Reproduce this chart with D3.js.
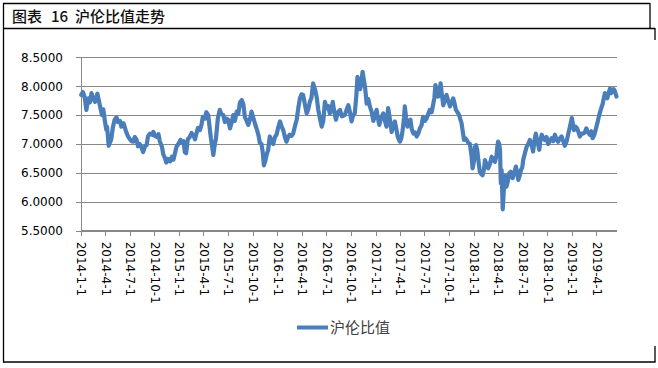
<!DOCTYPE html>
<html><head><meta charset="utf-8">
<script src="https://cdn.jsdelivr.net/npm/d3@7"></script>
<style>
html,body{margin:0;padding:0;background:#fff;}
svg{display:block;}
</style></head>
<body>
<script>
const titleParts = ["图表", "16", "沪伦比值走势"];
const seriesName = "沪伦比值";
const yTicks = [5.5, 6.0, 6.5, 7.0, 7.5, 8.0, 8.5];
const xTickLabels = ["2014-1-1","2014-4-1","2014-7-1","2014-10-1","2015-1-1","2015-4-1","2015-7-1","2015-10-1","2016-1-1","2016-4-1","2016-7-1","2016-10-1","2017-1-1","2017-4-1","2017-7-1","2017-10-1","2018-1-1","2018-4-1","2018-7-1","2018-10-1","2019-1-1","2019-4-1"];
const dateRange = ["2014-01-01","2019-06-17"];
const dates = [
"2014-01-02","2014-01-08","2014-01-15","2014-01-21","2014-01-28","2014-02-03","2014-02-09","2014-02-14","2014-02-22","2014-03-03","2014-03-12","2014-03-20","2014-03-25","2014-03-31","2014-04-05","2014-04-08","2014-04-14","2014-04-18","2014-04-23","2014-04-30","2014-05-06","2014-05-13","2014-05-18","2014-05-26","2014-05-31","2014-06-08","2014-06-18","2014-06-25","2014-07-07","2014-07-14","2014-07-20","2014-07-26","2014-08-01","2014-08-07","2014-08-14","2014-08-20","2014-08-27","2014-09-02","2014-09-07","2014-09-14","2014-09-22","2014-09-27","2014-10-03","2014-10-10","2014-10-16","2014-10-21","2014-10-29","2014-11-03","2014-11-09","2014-11-14","2014-11-20","2014-11-28","2014-12-05","2014-12-11","2014-12-16","2014-12-22","2014-12-29",
"2015-01-06","2015-01-11","2015-01-17","2015-01-22","2015-01-27","2015-02-02","2015-02-09","2015-02-16","2015-02-23","2015-03-01","2015-03-06","2015-03-12","2015-03-19","2015-03-25","2015-03-30","2015-04-07","2015-04-12","2015-04-19","2015-04-24","2015-04-29","2015-05-04","2015-05-08","2015-05-12","2015-05-18","2015-05-25","2015-06-01","2015-06-07","2015-06-14","2015-06-20","2015-06-26","2015-07-02","2015-07-09","2015-07-14","2015-07-21","2015-07-27","2015-08-03","2015-08-09","2015-08-15","2015-08-22","2015-08-28","2015-09-02","2015-09-09","2015-09-15","2015-09-21","2015-09-27","2015-10-04","2015-10-10","2015-10-17","2015-10-23","2015-10-28","2015-11-03","2015-11-08","2015-11-12","2015-11-17","2015-11-22","2015-11-28","2015-12-04","2015-12-10","2015-12-17","2015-12-23","2015-12-29",
"2016-01-04","2016-01-11","2016-01-17","2016-01-23","2016-01-29","2016-02-04","2016-02-10","2016-02-16","2016-02-23","2016-02-29","2016-03-06","2016-03-13","2016-03-19","2016-03-25","2016-03-31","2016-04-06","2016-04-12","2016-04-19","2016-04-25","2016-05-01","2016-05-07","2016-05-13","2016-05-20","2016-05-26","2016-06-01","2016-06-07","2016-06-14","2016-06-20","2016-06-26","2016-07-02","2016-07-08","2016-07-14","2016-07-20","2016-07-25","2016-07-31","2016-08-06","2016-08-13","2016-08-21","2016-08-28","2016-09-08","2016-09-15","2016-09-21","2016-09-27","2016-10-03","2016-10-09","2016-10-15","2016-10-21","2016-10-25","2016-10-31","2016-11-04","2016-11-09","2016-11-13","2016-11-18","2016-11-23","2016-11-28","2016-12-04","2016-12-10","2016-12-17","2016-12-23","2016-12-29",
"2017-01-04","2017-01-09","2017-01-14","2017-01-21","2017-01-29","2017-02-04","2017-02-10","2017-02-16","2017-02-22","2017-03-01","2017-03-07","2017-03-13","2017-03-19","2017-03-24","2017-04-01","2017-04-06","2017-04-11","2017-04-16","2017-04-19","2017-04-24","2017-04-29","2017-05-04","2017-05-10","2017-05-15","2017-05-21","2017-05-27","2017-06-02","2017-06-08","2017-06-14","2017-06-20","2017-06-26","2017-07-03","2017-07-09","2017-07-15","2017-07-21","2017-07-28","2017-08-03","2017-08-07","2017-08-11","2017-08-16","2017-08-21","2017-08-26","2017-08-30","2017-09-04","2017-09-09","2017-09-15","2017-09-21","2017-09-27","2017-10-04","2017-10-10","2017-10-16","2017-10-21","2017-10-26","2017-11-01","2017-11-07","2017-11-12","2017-11-16","2017-11-21","2017-11-25","2017-11-30","2017-12-05","2017-12-11","2017-12-17","2017-12-23","2017-12-27",
"2018-01-01","2018-01-05","2018-01-09","2018-01-13","2018-01-18","2018-01-23","2018-01-28","2018-02-02","2018-02-07","2018-02-11","2018-02-17","2018-02-23","2018-03-01","2018-03-08","2018-03-14","2018-03-20","2018-03-26","2018-03-29","2018-04-01","2018-04-05","2018-04-08","2018-04-11","2018-04-14","2018-04-18","2018-04-21","2018-04-24","2018-04-28","2018-05-02","2018-05-07","2018-05-12","2018-05-18","2018-05-25","2018-05-31","2018-06-06","2018-06-11","2018-06-15","2018-06-20","2018-06-25","2018-06-30","2018-07-03","2018-07-10","2018-07-16","2018-07-22","2018-07-28","2018-08-03","2018-08-09","2018-08-14","2018-08-19","2018-08-25","2018-09-01","2018-09-05","2018-09-10","2018-09-16","2018-09-22","2018-09-28","2018-10-04","2018-10-10","2018-10-17","2018-10-23","2018-10-29","2018-11-04","2018-11-10","2018-11-17","2018-11-23","2018-11-29","2018-12-05","2018-12-12","2018-12-18","2018-12-24","2018-12-31",
"2019-01-04","2019-01-08","2019-01-14","2019-01-20","2019-01-25","2019-01-30","2019-02-05","2019-02-11","2019-02-17","2019-02-23","2019-03-02","2019-03-08","2019-03-14","2019-03-18","2019-03-24","2019-03-31","2019-04-06","2019-04-12","2019-04-18","2019-04-25","2019-04-29","2019-05-03","2019-05-08","2019-05-12","2019-05-18","2019-05-22","2019-05-26","2019-06-01","2019-06-05","2019-06-10","2019-06-15"
];
const values = [
7.85,7.90,7.80,7.59,7.79,7.72,7.88,7.80,7.73,7.87,7.67,7.50,7.60,7.39,7.25,7.30,6.97,7.02,7.07,7.30,7.42,7.46,7.38,7.40,7.30,7.36,7.21,7.13,7.05,7.04,7.12,7.08,6.96,7.00,6.94,6.86,6.96,6.98,7.13,7.18,7.16,7.21,7.14,7.12,7.17,7.05,6.95,6.82,6.76,6.68,6.74,6.70,6.78,6.73,6.83,6.95,7.00,
7.07,7.02,7.05,6.86,6.84,7.08,7.12,7.19,7.15,7.08,7.18,7.28,7.24,7.33,7.47,7.44,7.55,7.50,7.30,7.10,6.95,6.81,6.95,7.10,7.45,7.59,7.52,7.50,7.38,7.44,7.42,7.27,7.35,7.50,7.40,7.56,7.52,7.72,7.76,7.68,7.47,7.40,7.33,7.42,7.56,7.45,7.35,7.25,7.15,7.02,7.00,6.85,6.63,6.70,6.81,6.90,7.13,7.05,7.00,7.12,7.16,
7.28,7.39,7.30,7.24,7.12,7.04,7.12,7.16,7.14,7.18,7.30,7.42,7.62,7.79,7.86,7.85,7.70,7.53,7.60,7.73,7.80,8.05,7.95,7.82,7.60,7.45,7.30,7.40,7.73,7.62,7.66,7.53,7.60,7.73,7.55,7.42,7.55,7.59,7.48,7.50,7.60,7.67,7.55,7.39,7.50,7.53,7.85,8.16,8.05,7.95,8.10,8.25,8.10,7.95,7.70,7.78,7.65,7.55,7.40,7.48,
7.59,7.45,7.33,7.45,7.53,7.40,7.30,7.62,7.45,7.21,7.30,7.39,7.25,7.12,7.04,7.10,7.24,7.45,7.65,7.45,7.30,7.38,7.42,7.25,7.18,7.20,7.13,7.18,7.27,7.32,7.47,7.40,7.44,7.52,7.59,7.55,7.70,7.80,8.02,7.90,7.82,7.90,8.05,7.85,7.67,7.75,7.85,7.75,7.65,7.72,7.79,7.70,7.59,7.55,7.50,7.42,7.36,7.20,7.07,7.10,7.07,7.02,7.00,6.80,6.58,
6.70,6.95,6.98,6.90,6.70,6.52,6.48,6.46,6.55,6.72,6.65,6.58,6.65,6.78,6.72,6.69,6.80,6.95,7.04,7.00,6.90,6.32,6.55,5.87,6.10,6.38,6.45,6.26,6.35,6.49,6.52,6.41,6.50,6.61,6.50,6.38,6.45,6.55,6.60,6.72,6.85,6.95,7.00,7.07,7.00,6.87,7.05,7.18,7.05,6.90,7.05,7.16,7.10,7.07,7.12,7.00,7.05,7.10,7.05,7.16,7.08,7.04,7.10,7.13,7.05,6.97,7.05,7.18,7.30,7.45,
7.35,7.24,7.30,7.27,7.20,7.13,7.18,7.18,7.20,7.27,7.20,7.16,7.22,7.10,7.15,7.27,7.38,7.50,7.60,7.70,7.80,7.88,7.82,7.79,7.90,7.96,7.88,7.91,7.95,7.90,7.82
];

const W = 658, H = 368;
const svg = d3.select("body").append("svg").attr("width", W).attr("height", H);
const toDate = s => { const p = s.split("-").map(Number); return new Date(p[0], p[1]-1, p[2]); };
const data = dates.map((d, i) => ({date: toDate(d), value: values[i]}));

// frame (table cells)
const frame = svg.append("g").attr("stroke", "#000").attr("stroke-width", 1.3).attr("fill", "none");
frame.append("line").attr("x1", 3).attr("y1", 3.5).attr("x2", 650).attr("y2", 3.5);
frame.append("line").attr("x1", 650).attr("y1", 3).attr("x2", 650).attr("y2", 28);
frame.append("line").attr("x1", 3).attr("y1", 28.5).attr("x2", 655).attr("y2", 28.5);
frame.append("line").attr("x1", 655).attr("y1", 28).attr("x2", 655).attr("y2", 40);
frame.append("line").attr("x1", 655).attr("y1", 346).attr("x2", 655).attr("y2", 362);
frame.append("line").attr("x1", 3).attr("y1", 362).attr("x2", 655.5).attr("y2", 362);
frame.append("line").attr("x1", 3.5).attr("y1", 3).attr("x2", 3.5).attr("y2", 362.5);

const titleX = [12, 51, 75];
const tt = svg.append("text").attr("y", 21.5)
  .attr("font-family", "'Noto Sans CJK SC', sans-serif").attr("font-size", 15)
  .attr("font-weight", 500).attr("fill", "#111");
tt.selectAll("tspan").data(titleParts).join("tspan")
  .attr("x", (d, i) => titleX[i]).text(d => d);

const x = d3.scaleTime().domain(dateRange.map(toDate)).range([81, 617]);
const y = d3.scaleLinear().domain([5.5, 8.5]).range([230.7, 57.3]);

// gridlines
svg.append("g").attr("transform", "translate(81,0)")
  .call(d3.axisLeft(y).tickValues(yTicks).tickSize(-536).tickFormat(""))
  .call(g => g.select(".domain").remove())
  .call(g => g.selectAll("line").attr("stroke", "#888").attr("shape-rendering", "crispEdges"));

// y axis
const ya = svg.append("g").attr("transform", "translate(81,0)")
  .call(d3.axisLeft(y).tickValues(yTicks).tickSize(5).tickPadding(13).tickFormat(d3.format(".4f")));
ya.select(".domain").attr("stroke", "#888").attr("shape-rendering", "crispEdges");
ya.selectAll("line").attr("stroke", "#888").attr("shape-rendering", "crispEdges");
ya.selectAll("text").attr("font-family", "'DejaVu Sans', Verdana, sans-serif").attr("font-size", 12).attr("fill", "#000");

// x axis
const xa = svg.append("g").attr("transform", `translate(0,${y(5.5)})`)
  .call(d3.axisBottom(x).tickValues(xTickLabels.map(toDate)).tickSize(5)
    .tickFormat((d, i) => xTickLabels[i]));
xa.select(".domain").attr("stroke", "#888").attr("d", `M81,0H617`).attr("shape-rendering", "crispEdges");
xa.selectAll("line").attr("stroke", "#888").attr("shape-rendering", "crispEdges");
xa.selectAll("text")
  .attr("font-family", "'DejaVu Sans', Verdana, sans-serif").attr("font-size", 12).attr("fill", "#000")
  .attr("text-anchor", "start").attr("y", 0).attr("x", 0).attr("dy", "0.35em")
  .attr("transform", "translate(0,11) rotate(90)");

// series line
const line = d3.line().x(d => x(d.date)).y(d => y(d.value)).curve(d3.curveLinear);
svg.append("path").datum(data).attr("d", line)
  .attr("fill", "none").attr("stroke", "#4A7EBB").attr("stroke-width", 4.2)
  .attr("stroke-linejoin", "round").attr("stroke-linecap", "round");

// legend
svg.append("line").attr("x1", 297).attr("x2", 328).attr("y1", 327.5).attr("y2", 327.5)
  .attr("stroke", "#4A7EBB").attr("stroke-width", 4);
svg.append("text").attr("x", 330).attr("y", 333)
  .attr("font-family", "'Noto Sans CJK SC', sans-serif").attr("font-size", 15)
  .attr("fill", "#404040").text(seriesName);
</script>
</body></html>
